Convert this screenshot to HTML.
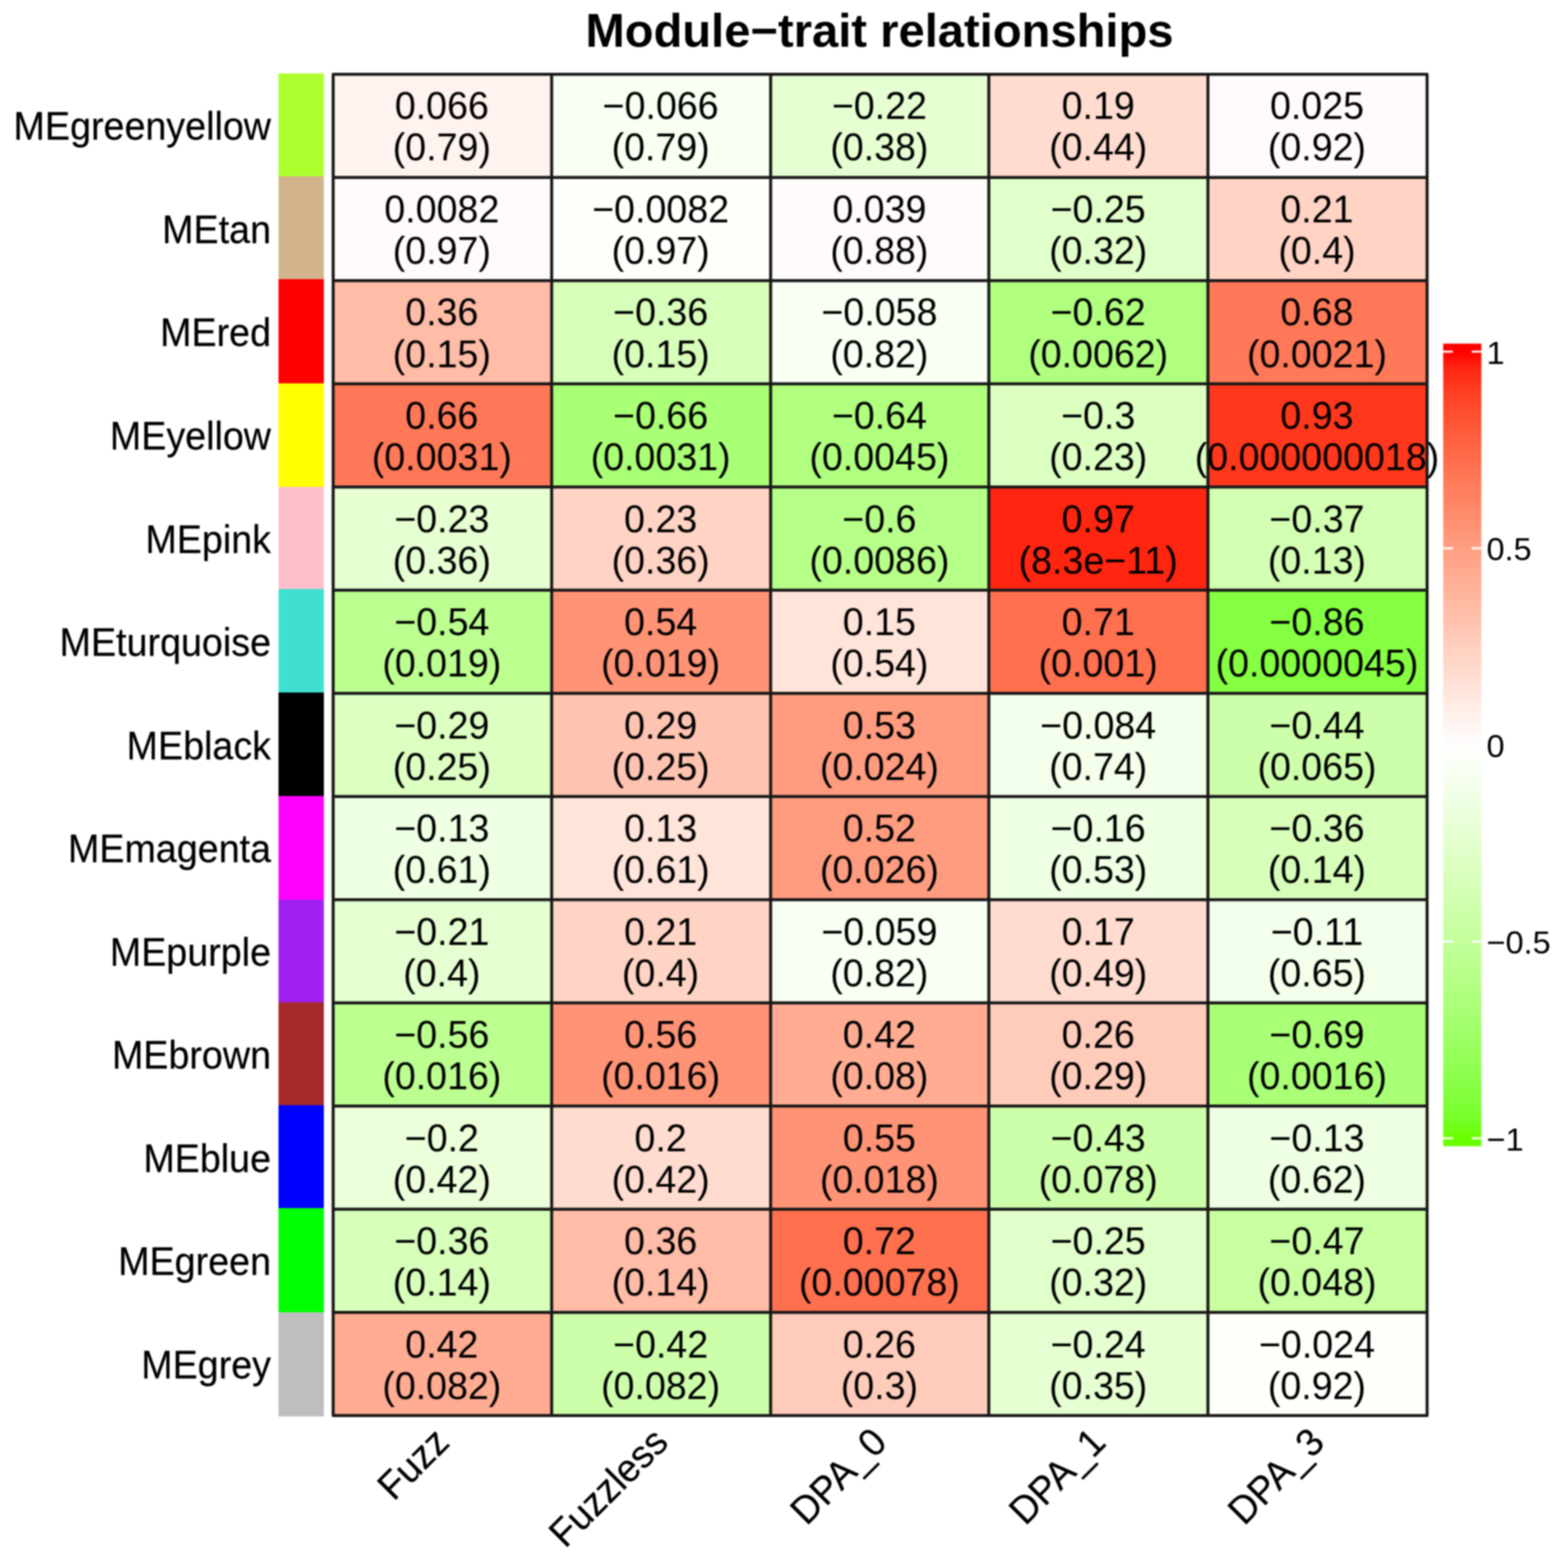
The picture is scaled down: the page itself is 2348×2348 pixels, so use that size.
<!DOCTYPE html>
<html lang="en">
<head>
<meta charset="utf-8">
<title>Module-trait relationships</title>
<style>
html,body{margin:0;padding:0;background:#ffffff;}
body{width:2348px;height:2348px;overflow:hidden;}
svg{display:block;}
text{font-family:"Liberation Sans",sans-serif;fill:#000000;}
.t{font-size:70.6px;font-weight:bold;text-anchor:middle;}
.r,.x{stroke:#000;stroke-width:0.3px;stroke-linejoin:round;}
.r{font-size:56.4px;text-anchor:end;}
.c{font-size:56.3px;text-anchor:middle;}
.x{font-size:56.3px;text-anchor:end;}
.l{font-size:48.6px;text-anchor:start;}
</style>
</head>
<body>
<svg width="2348" height="2348" viewBox="0 0 2348 2348">
<rect x="0" y="0" width="2348" height="2348" fill="#ffffff"/>
<defs><filter id="soft" x="0" y="0" width="2348" height="2348" filterUnits="userSpaceOnUse" color-interpolation-filters="sRGB"><feGaussianBlur stdDeviation="1.0"/></filter></defs>
<g filter="url(#soft)">
<rect x="0" y="0" width="2348" height="2348" fill="#ffffff"/>
<text class="t" transform="translate(1317 69.5) scale(1 1.0)">Module−trait relationships</text>
<g shape-rendering="crispEdges">
<rect x="417" y="109.5" width="68.2" height="155" fill="#adff2f"/>
<rect x="417" y="264" width="68.2" height="154.5" fill="#d2b48c"/>
<rect x="417" y="418" width="68.2" height="156.1" fill="#ff0000"/>
<rect x="417" y="573.6" width="68.2" height="155.9" fill="#ffff00"/>
<rect x="417" y="729" width="68.2" height="153.3" fill="#ffc0cb"/>
<rect x="417" y="881.8" width="68.2" height="155.7" fill="#40e0d0"/>
<rect x="417" y="1037" width="68.2" height="155.9" fill="#000000"/>
<rect x="417" y="1192.4" width="68.2" height="155.1" fill="#ff00ff"/>
<rect x="417" y="1347" width="68.2" height="154.7" fill="#a020f0"/>
<rect x="417" y="1501.2" width="68.2" height="153.9" fill="#a52a2a"/>
<rect x="417" y="1654.6" width="68.2" height="154.9" fill="#0000ff"/>
<rect x="417" y="1809" width="68.2" height="156.8" fill="#00ff00"/>
<rect x="417" y="1965.3" width="68.2" height="155.7" fill="#bebebe"/>
</g>
<g>
<rect x="498.9" y="111.2" width="327.7" height="155" fill="#fff3ef"/>
<rect x="826.1" y="111.2" width="328.4" height="155" fill="#f8fff3"/>
<rect x="1154" y="111.2" width="327.2" height="155" fill="#e6ffd2"/>
<rect x="1480.7" y="111.2" width="328.6" height="155" fill="#ffdccf"/>
<rect x="1808.8" y="111.2" width="328.7" height="155" fill="#fffbfa"/>
<rect x="498.9" y="265.7" width="327.7" height="155" fill="#fffbfa"/>
<rect x="826.1" y="265.7" width="328.4" height="155" fill="#fdfffb"/>
<rect x="1154" y="265.7" width="327.2" height="155" fill="#fffbfa"/>
<rect x="1480.7" y="265.7" width="328.6" height="155" fill="#e1ffca"/>
<rect x="1808.8" y="265.7" width="328.7" height="155" fill="#ffd4c5"/>
<rect x="498.9" y="420.2" width="327.7" height="155" fill="#ffbca7"/>
<rect x="826.1" y="420.2" width="328.4" height="155" fill="#d7ffba"/>
<rect x="1154" y="420.2" width="327.2" height="155" fill="#f8fff3"/>
<rect x="1480.7" y="420.2" width="328.6" height="155" fill="#b0ff7f"/>
<rect x="1808.8" y="420.2" width="328.7" height="155" fill="#ff7958"/>
<rect x="498.9" y="574.7" width="327.7" height="155" fill="#ff7958"/>
<rect x="826.1" y="574.7" width="328.4" height="155" fill="#a9ff76"/>
<rect x="1154" y="574.7" width="327.2" height="155" fill="#b0ff7f"/>
<rect x="1480.7" y="574.7" width="328.6" height="155" fill="#dcffc2"/>
<rect x="1808.8" y="574.7" width="328.7" height="155" fill="#ff371d"/>
<rect x="498.9" y="729.2" width="327.7" height="155" fill="#e6ffd2"/>
<rect x="826.1" y="729.2" width="328.4" height="155" fill="#ffd4c5"/>
<rect x="1154" y="729.2" width="327.2" height="155" fill="#b6ff88"/>
<rect x="1480.7" y="729.2" width="328.6" height="155" fill="#ff2510"/>
<rect x="1808.8" y="729.2" width="328.7" height="155" fill="#d2ffb2"/>
<rect x="498.9" y="883.7" width="327.7" height="155" fill="#bcff90"/>
<rect x="826.1" y="883.7" width="328.4" height="155" fill="#ff9375"/>
<rect x="1154" y="883.7" width="327.2" height="155" fill="#ffe4da"/>
<rect x="1480.7" y="883.7" width="328.6" height="155" fill="#ff704f"/>
<rect x="1808.8" y="883.7" width="328.7" height="155" fill="#85ff42"/>
<rect x="498.9" y="1038.2" width="327.7" height="155" fill="#dcffc2"/>
<rect x="826.1" y="1038.2" width="328.4" height="155" fill="#ffc4b1"/>
<rect x="1154" y="1038.2" width="327.2" height="155" fill="#ff9c7f"/>
<rect x="1480.7" y="1038.2" width="328.6" height="155" fill="#f4ffeb"/>
<rect x="1808.8" y="1038.2" width="328.7" height="155" fill="#cdffaa"/>
<rect x="498.9" y="1192.7" width="327.7" height="155" fill="#efffe3"/>
<rect x="826.1" y="1192.7" width="328.4" height="155" fill="#ffe4da"/>
<rect x="1154" y="1192.7" width="327.2" height="155" fill="#ff9c7f"/>
<rect x="1480.7" y="1192.7" width="328.6" height="155" fill="#efffe3"/>
<rect x="1808.8" y="1192.7" width="328.7" height="155" fill="#d7ffba"/>
<rect x="498.9" y="1347.2" width="327.7" height="155" fill="#e6ffd2"/>
<rect x="826.1" y="1347.2" width="328.4" height="155" fill="#ffd4c5"/>
<rect x="1154" y="1347.2" width="327.2" height="155" fill="#f8fff3"/>
<rect x="1480.7" y="1347.2" width="328.6" height="155" fill="#ffdccf"/>
<rect x="1808.8" y="1347.2" width="328.7" height="155" fill="#f4ffeb"/>
<rect x="498.9" y="1501.7" width="327.7" height="155" fill="#bcff90"/>
<rect x="826.1" y="1501.7" width="328.4" height="155" fill="#ff9375"/>
<rect x="1154" y="1501.7" width="327.2" height="155" fill="#ffac93"/>
<rect x="1480.7" y="1501.7" width="328.6" height="155" fill="#ffccbb"/>
<rect x="1808.8" y="1501.7" width="328.7" height="155" fill="#a9ff76"/>
<rect x="498.9" y="1656.2" width="327.7" height="155" fill="#ebffdb"/>
<rect x="826.1" y="1656.2" width="328.4" height="155" fill="#ffdccf"/>
<rect x="1154" y="1656.2" width="327.2" height="155" fill="#ff9375"/>
<rect x="1480.7" y="1656.2" width="328.6" height="155" fill="#cdffaa"/>
<rect x="1808.8" y="1656.2" width="328.7" height="155" fill="#efffe3"/>
<rect x="498.9" y="1810.7" width="327.7" height="155" fill="#d7ffba"/>
<rect x="826.1" y="1810.7" width="328.4" height="155" fill="#ffbca7"/>
<rect x="1154" y="1810.7" width="327.2" height="155" fill="#ff704f"/>
<rect x="1480.7" y="1810.7" width="328.6" height="155" fill="#e1ffca"/>
<rect x="1808.8" y="1810.7" width="328.7" height="155" fill="#c7ffa1"/>
<rect x="498.9" y="1965.2" width="327.7" height="155" fill="#ffac93"/>
<rect x="826.1" y="1965.2" width="328.4" height="155" fill="#cdffaa"/>
<rect x="1154" y="1965.2" width="327.2" height="155" fill="#ffccbb"/>
<rect x="1480.7" y="1965.2" width="328.6" height="155" fill="#e6ffd2"/>
<rect x="1808.8" y="1965.2" width="328.7" height="155" fill="#fdfffb"/>
</g>
<g stroke="#181818" stroke-width="4.5" stroke-linecap="butt" stroke-linejoin="round" fill="none">
<line x1="498.9" y1="265.7" x2="2137" y2="265.7"/>
<line x1="498.9" y1="420.2" x2="2137" y2="420.2"/>
<line x1="498.9" y1="574.7" x2="2137" y2="574.7"/>
<line x1="498.9" y1="729.2" x2="2137" y2="729.2"/>
<line x1="498.9" y1="883.7" x2="2137" y2="883.7"/>
<line x1="498.9" y1="1038.2" x2="2137" y2="1038.2"/>
<line x1="498.9" y1="1192.7" x2="2137" y2="1192.7"/>
<line x1="498.9" y1="1347.2" x2="2137" y2="1347.2"/>
<line x1="498.9" y1="1501.7" x2="2137" y2="1501.7"/>
<line x1="498.9" y1="1656.2" x2="2137" y2="1656.2"/>
<line x1="498.9" y1="1810.7" x2="2137" y2="1810.7"/>
<line x1="498.9" y1="1965.2" x2="2137" y2="1965.2"/>
<line x1="826.1" y1="111.2" x2="826.1" y2="2119.7"/>
<line x1="1154" y1="111.2" x2="1154" y2="2119.7"/>
<line x1="1480.7" y1="111.2" x2="1480.7" y2="2119.7"/>
<line x1="1808.8" y1="111.2" x2="1808.8" y2="2119.7"/>
<rect x="498.9" y="111.2" width="1638.1" height="2008.5"/>
</g>
<text class="r" transform="translate(405.8 209.3) scale(1 1.035)">MEgreenyellow</text>
<text class="r" transform="translate(405.8 363.85) scale(1 1.035)">MEtan</text>
<text class="r" transform="translate(405.8 518.4) scale(1 1.035)">MEred</text>
<text class="r" transform="translate(405.8 672.95) scale(1 1.035)">MEyellow</text>
<text class="r" transform="translate(405.8 827.5) scale(1 1.035)">MEpink</text>
<text class="r" transform="translate(405.8 982.05) scale(1 1.035)">MEturquoise</text>
<text class="r" transform="translate(405.8 1136.6) scale(1 1.035)">MEblack</text>
<text class="r" transform="translate(405.8 1291.15) scale(1 1.035)">MEmagenta</text>
<text class="r" transform="translate(405.8 1445.7) scale(1 1.035)">MEpurple</text>
<text class="r" transform="translate(405.8 1600.25) scale(1 1.035)">MEbrown</text>
<text class="r" transform="translate(405.8 1754.8) scale(1 1.035)">MEblue</text>
<text class="r" transform="translate(405.8 1909.35) scale(1 1.035)">MEgreen</text>
<text class="r" transform="translate(405.8 2063.9) scale(1 1.035)">MEgrey</text>
<text class="c" transform="translate(661.61 178.3) scale(1 1.03)">0.066</text>
<text class="c" transform="translate(661.61 240.4) scale(1 1.03)">(0.79)</text>
<text class="c" transform="translate(989.23 178.3) scale(1 1.03)">−0.066</text>
<text class="c" transform="translate(989.23 240.4) scale(1 1.03)">(0.79)</text>
<text class="c" transform="translate(1316.85 178.3) scale(1 1.03)">−0.22</text>
<text class="c" transform="translate(1316.85 240.4) scale(1 1.03)">(0.38)</text>
<text class="c" transform="translate(1644.47 178.3) scale(1 1.03)">0.19</text>
<text class="c" transform="translate(1644.47 240.4) scale(1 1.03)">(0.44)</text>
<text class="c" transform="translate(1972.09 178.3) scale(1 1.03)">0.025</text>
<text class="c" transform="translate(1972.09 240.4) scale(1 1.03)">(0.92)</text>
<text class="c" transform="translate(661.61 332.85) scale(1 1.03)">0.0082</text>
<text class="c" transform="translate(661.61 394.95) scale(1 1.03)">(0.97)</text>
<text class="c" transform="translate(989.23 332.85) scale(1 1.03)">−0.0082</text>
<text class="c" transform="translate(989.23 394.95) scale(1 1.03)">(0.97)</text>
<text class="c" transform="translate(1316.85 332.85) scale(1 1.03)">0.039</text>
<text class="c" transform="translate(1316.85 394.95) scale(1 1.03)">(0.88)</text>
<text class="c" transform="translate(1644.47 332.85) scale(1 1.03)">−0.25</text>
<text class="c" transform="translate(1644.47 394.95) scale(1 1.03)">(0.32)</text>
<text class="c" transform="translate(1972.09 332.85) scale(1 1.03)">0.21</text>
<text class="c" transform="translate(1972.09 394.95) scale(1 1.03)">(0.4)</text>
<text class="c" transform="translate(661.61 487.4) scale(1 1.03)">0.36</text>
<text class="c" transform="translate(661.61 549.5) scale(1 1.03)">(0.15)</text>
<text class="c" transform="translate(989.23 487.4) scale(1 1.03)">−0.36</text>
<text class="c" transform="translate(989.23 549.5) scale(1 1.03)">(0.15)</text>
<text class="c" transform="translate(1316.85 487.4) scale(1 1.03)">−0.058</text>
<text class="c" transform="translate(1316.85 549.5) scale(1 1.03)">(0.82)</text>
<text class="c" transform="translate(1644.47 487.4) scale(1 1.03)">−0.62</text>
<text class="c" transform="translate(1644.47 549.5) scale(1 1.03)">(0.0062)</text>
<text class="c" transform="translate(1972.09 487.4) scale(1 1.03)">0.68</text>
<text class="c" transform="translate(1972.09 549.5) scale(1 1.03)">(0.0021)</text>
<text class="c" transform="translate(661.61 641.95) scale(1 1.03)">0.66</text>
<text class="c" transform="translate(661.61 704.05) scale(1 1.03)">(0.0031)</text>
<text class="c" transform="translate(989.23 641.95) scale(1 1.03)">−0.66</text>
<text class="c" transform="translate(989.23 704.05) scale(1 1.03)">(0.0031)</text>
<text class="c" transform="translate(1316.85 641.95) scale(1 1.03)">−0.64</text>
<text class="c" transform="translate(1316.85 704.05) scale(1 1.03)">(0.0045)</text>
<text class="c" transform="translate(1644.47 641.95) scale(1 1.03)">−0.3</text>
<text class="c" transform="translate(1644.47 704.05) scale(1 1.03)">(0.23)</text>
<text class="c" transform="translate(1972.09 641.95) scale(1 1.03)">0.93</text>
<text class="c" transform="translate(1972.09 704.05) scale(1 1.03)">(0.000000018)</text>
<text class="c" transform="translate(661.61 796.5) scale(1 1.03)">−0.23</text>
<text class="c" transform="translate(661.61 858.6) scale(1 1.03)">(0.36)</text>
<text class="c" transform="translate(989.23 796.5) scale(1 1.03)">0.23</text>
<text class="c" transform="translate(989.23 858.6) scale(1 1.03)">(0.36)</text>
<text class="c" transform="translate(1316.85 796.5) scale(1 1.03)">−0.6</text>
<text class="c" transform="translate(1316.85 858.6) scale(1 1.03)">(0.0086)</text>
<text class="c" transform="translate(1644.47 796.5) scale(1 1.03)">0.97</text>
<text class="c" transform="translate(1644.47 858.6) scale(1 1.03)">(8.3e−11)</text>
<text class="c" transform="translate(1972.09 796.5) scale(1 1.03)">−0.37</text>
<text class="c" transform="translate(1972.09 858.6) scale(1 1.03)">(0.13)</text>
<text class="c" transform="translate(661.61 951.05) scale(1 1.03)">−0.54</text>
<text class="c" transform="translate(661.61 1013.15) scale(1 1.03)">(0.019)</text>
<text class="c" transform="translate(989.23 951.05) scale(1 1.03)">0.54</text>
<text class="c" transform="translate(989.23 1013.15) scale(1 1.03)">(0.019)</text>
<text class="c" transform="translate(1316.85 951.05) scale(1 1.03)">0.15</text>
<text class="c" transform="translate(1316.85 1013.15) scale(1 1.03)">(0.54)</text>
<text class="c" transform="translate(1644.47 951.05) scale(1 1.03)">0.71</text>
<text class="c" transform="translate(1644.47 1013.15) scale(1 1.03)">(0.001)</text>
<text class="c" transform="translate(1972.09 951.05) scale(1 1.03)">−0.86</text>
<text class="c" transform="translate(1972.09 1013.15) scale(1 1.03)">(0.0000045)</text>
<text class="c" transform="translate(661.61 1105.6) scale(1 1.03)">−0.29</text>
<text class="c" transform="translate(661.61 1167.7) scale(1 1.03)">(0.25)</text>
<text class="c" transform="translate(989.23 1105.6) scale(1 1.03)">0.29</text>
<text class="c" transform="translate(989.23 1167.7) scale(1 1.03)">(0.25)</text>
<text class="c" transform="translate(1316.85 1105.6) scale(1 1.03)">0.53</text>
<text class="c" transform="translate(1316.85 1167.7) scale(1 1.03)">(0.024)</text>
<text class="c" transform="translate(1644.47 1105.6) scale(1 1.03)">−0.084</text>
<text class="c" transform="translate(1644.47 1167.7) scale(1 1.03)">(0.74)</text>
<text class="c" transform="translate(1972.09 1105.6) scale(1 1.03)">−0.44</text>
<text class="c" transform="translate(1972.09 1167.7) scale(1 1.03)">(0.065)</text>
<text class="c" transform="translate(661.61 1260.15) scale(1 1.03)">−0.13</text>
<text class="c" transform="translate(661.61 1322.25) scale(1 1.03)">(0.61)</text>
<text class="c" transform="translate(989.23 1260.15) scale(1 1.03)">0.13</text>
<text class="c" transform="translate(989.23 1322.25) scale(1 1.03)">(0.61)</text>
<text class="c" transform="translate(1316.85 1260.15) scale(1 1.03)">0.52</text>
<text class="c" transform="translate(1316.85 1322.25) scale(1 1.03)">(0.026)</text>
<text class="c" transform="translate(1644.47 1260.15) scale(1 1.03)">−0.16</text>
<text class="c" transform="translate(1644.47 1322.25) scale(1 1.03)">(0.53)</text>
<text class="c" transform="translate(1972.09 1260.15) scale(1 1.03)">−0.36</text>
<text class="c" transform="translate(1972.09 1322.25) scale(1 1.03)">(0.14)</text>
<text class="c" transform="translate(661.61 1414.7) scale(1 1.03)">−0.21</text>
<text class="c" transform="translate(661.61 1476.8) scale(1 1.03)">(0.4)</text>
<text class="c" transform="translate(989.23 1414.7) scale(1 1.03)">0.21</text>
<text class="c" transform="translate(989.23 1476.8) scale(1 1.03)">(0.4)</text>
<text class="c" transform="translate(1316.85 1414.7) scale(1 1.03)">−0.059</text>
<text class="c" transform="translate(1316.85 1476.8) scale(1 1.03)">(0.82)</text>
<text class="c" transform="translate(1644.47 1414.7) scale(1 1.03)">0.17</text>
<text class="c" transform="translate(1644.47 1476.8) scale(1 1.03)">(0.49)</text>
<text class="c" transform="translate(1972.09 1414.7) scale(1 1.03)">−0.11</text>
<text class="c" transform="translate(1972.09 1476.8) scale(1 1.03)">(0.65)</text>
<text class="c" transform="translate(661.61 1569.25) scale(1 1.03)">−0.56</text>
<text class="c" transform="translate(661.61 1631.35) scale(1 1.03)">(0.016)</text>
<text class="c" transform="translate(989.23 1569.25) scale(1 1.03)">0.56</text>
<text class="c" transform="translate(989.23 1631.35) scale(1 1.03)">(0.016)</text>
<text class="c" transform="translate(1316.85 1569.25) scale(1 1.03)">0.42</text>
<text class="c" transform="translate(1316.85 1631.35) scale(1 1.03)">(0.08)</text>
<text class="c" transform="translate(1644.47 1569.25) scale(1 1.03)">0.26</text>
<text class="c" transform="translate(1644.47 1631.35) scale(1 1.03)">(0.29)</text>
<text class="c" transform="translate(1972.09 1569.25) scale(1 1.03)">−0.69</text>
<text class="c" transform="translate(1972.09 1631.35) scale(1 1.03)">(0.0016)</text>
<text class="c" transform="translate(661.61 1723.8) scale(1 1.03)">−0.2</text>
<text class="c" transform="translate(661.61 1785.9) scale(1 1.03)">(0.42)</text>
<text class="c" transform="translate(989.23 1723.8) scale(1 1.03)">0.2</text>
<text class="c" transform="translate(989.23 1785.9) scale(1 1.03)">(0.42)</text>
<text class="c" transform="translate(1316.85 1723.8) scale(1 1.03)">0.55</text>
<text class="c" transform="translate(1316.85 1785.9) scale(1 1.03)">(0.018)</text>
<text class="c" transform="translate(1644.47 1723.8) scale(1 1.03)">−0.43</text>
<text class="c" transform="translate(1644.47 1785.9) scale(1 1.03)">(0.078)</text>
<text class="c" transform="translate(1972.09 1723.8) scale(1 1.03)">−0.13</text>
<text class="c" transform="translate(1972.09 1785.9) scale(1 1.03)">(0.62)</text>
<text class="c" transform="translate(661.61 1878.35) scale(1 1.03)">−0.36</text>
<text class="c" transform="translate(661.61 1940.45) scale(1 1.03)">(0.14)</text>
<text class="c" transform="translate(989.23 1878.35) scale(1 1.03)">0.36</text>
<text class="c" transform="translate(989.23 1940.45) scale(1 1.03)">(0.14)</text>
<text class="c" transform="translate(1316.85 1878.35) scale(1 1.03)">0.72</text>
<text class="c" transform="translate(1316.85 1940.45) scale(1 1.03)">(0.00078)</text>
<text class="c" transform="translate(1644.47 1878.35) scale(1 1.03)">−0.25</text>
<text class="c" transform="translate(1644.47 1940.45) scale(1 1.03)">(0.32)</text>
<text class="c" transform="translate(1972.09 1878.35) scale(1 1.03)">−0.47</text>
<text class="c" transform="translate(1972.09 1940.45) scale(1 1.03)">(0.048)</text>
<text class="c" transform="translate(661.61 2032.9) scale(1 1.03)">0.42</text>
<text class="c" transform="translate(661.61 2095) scale(1 1.03)">(0.082)</text>
<text class="c" transform="translate(989.23 2032.9) scale(1 1.03)">−0.42</text>
<text class="c" transform="translate(989.23 2095) scale(1 1.03)">(0.082)</text>
<text class="c" transform="translate(1316.85 2032.9) scale(1 1.03)">0.26</text>
<text class="c" transform="translate(1316.85 2095) scale(1 1.03)">(0.3)</text>
<text class="c" transform="translate(1644.47 2032.9) scale(1 1.03)">−0.24</text>
<text class="c" transform="translate(1644.47 2095) scale(1 1.03)">(0.35)</text>
<text class="c" transform="translate(1972.09 2032.9) scale(1 1.03)">−0.024</text>
<text class="c" transform="translate(1972.09 2095) scale(1 1.03)">(0.92)</text>
<text class="x" transform="translate(661.41 2148.5) rotate(-45) translate(0 20.16) scale(1 1.035)">Fuzz</text>
<text class="x" transform="translate(989.03 2148.5) rotate(-45) translate(0 20.16) scale(1 1.035)">Fuzzless</text>
<text class="x" transform="translate(1316.65 2148.5) rotate(-45) translate(0 20.16) scale(1 1.035)">DPA_0</text>
<text class="x" transform="translate(1644.27 2148.5) rotate(-45) translate(0 20.16) scale(1 1.035)">DPA_1</text>
<text class="x" transform="translate(1971.89 2148.5) rotate(-45) translate(0 20.16) scale(1 1.035)">DPA_3</text>
<defs><linearGradient id="lg" gradientUnits="userSpaceOnUse" x1="0" y1="526.6" x2="0" y2="1704.4">
<stop offset="0.00000" stop-color="#ff0000"/>
<stop offset="0.02041" stop-color="#ff2510"/>
<stop offset="0.04082" stop-color="#ff371d"/>
<stop offset="0.06122" stop-color="#ff4527"/>
<stop offset="0.08163" stop-color="#ff5132"/>
<stop offset="0.10204" stop-color="#ff5c3b"/>
<stop offset="0.12245" stop-color="#ff6645"/>
<stop offset="0.14286" stop-color="#ff704f"/>
<stop offset="0.16327" stop-color="#ff7958"/>
<stop offset="0.18367" stop-color="#ff8262"/>
<stop offset="0.20408" stop-color="#ff8b6b"/>
<stop offset="0.22449" stop-color="#ff9375"/>
<stop offset="0.24490" stop-color="#ff9c7f"/>
<stop offset="0.26531" stop-color="#ffa489"/>
<stop offset="0.28571" stop-color="#ffac93"/>
<stop offset="0.30612" stop-color="#ffb49c"/>
<stop offset="0.32653" stop-color="#ffbca7"/>
<stop offset="0.34694" stop-color="#ffc4b1"/>
<stop offset="0.36735" stop-color="#ffccbb"/>
<stop offset="0.38776" stop-color="#ffd4c5"/>
<stop offset="0.40816" stop-color="#ffdccf"/>
<stop offset="0.42857" stop-color="#ffe4da"/>
<stop offset="0.44898" stop-color="#ffece4"/>
<stop offset="0.46939" stop-color="#fff3ef"/>
<stop offset="0.48980" stop-color="#fffbfa"/>
<stop offset="0.51020" stop-color="#fdfffb"/>
<stop offset="0.53061" stop-color="#f8fff3"/>
<stop offset="0.55102" stop-color="#f4ffeb"/>
<stop offset="0.57143" stop-color="#efffe3"/>
<stop offset="0.59184" stop-color="#ebffdb"/>
<stop offset="0.61224" stop-color="#e6ffd2"/>
<stop offset="0.63265" stop-color="#e1ffca"/>
<stop offset="0.65306" stop-color="#dcffc2"/>
<stop offset="0.67347" stop-color="#d7ffba"/>
<stop offset="0.69388" stop-color="#d2ffb2"/>
<stop offset="0.71429" stop-color="#cdffaa"/>
<stop offset="0.73469" stop-color="#c7ffa1"/>
<stop offset="0.75510" stop-color="#c2ff99"/>
<stop offset="0.77551" stop-color="#bcff90"/>
<stop offset="0.79592" stop-color="#b6ff88"/>
<stop offset="0.81633" stop-color="#b0ff7f"/>
<stop offset="0.83673" stop-color="#a9ff76"/>
<stop offset="0.85714" stop-color="#a3ff6d"/>
<stop offset="0.87755" stop-color="#9cff63"/>
<stop offset="0.89796" stop-color="#95ff59"/>
<stop offset="0.91837" stop-color="#8dff4e"/>
<stop offset="0.93878" stop-color="#85ff42"/>
<stop offset="0.95918" stop-color="#7dff35"/>
<stop offset="0.97959" stop-color="#74ff23"/>
<stop offset="1.00000" stop-color="#6aff00"/>
</linearGradient></defs>
<rect x="2161.1" y="514.58" width="57.2" height="1201.84" fill="url(#lg)"/>
<g stroke="#ffffff" stroke-opacity="0.95" stroke-width="3.2">
<line x1="2161.1" y1="526.6" x2="2175.6" y2="526.6"/>
<line x1="2203.8" y1="526.6" x2="2218.3" y2="526.6"/>
<line x1="2161.1" y1="821.05" x2="2175.6" y2="821.05"/>
<line x1="2203.8" y1="821.05" x2="2218.3" y2="821.05"/>
<line x1="2161.1" y1="1115.5" x2="2175.6" y2="1115.5"/>
<line x1="2203.8" y1="1115.5" x2="2218.3" y2="1115.5"/>
<line x1="2161.1" y1="1409.95" x2="2175.6" y2="1409.95"/>
<line x1="2203.8" y1="1409.95" x2="2218.3" y2="1409.95"/>
<line x1="2161.1" y1="1704.4" x2="2175.6" y2="1704.4"/>
<line x1="2203.8" y1="1704.4" x2="2218.3" y2="1704.4"/>
</g>
<text class="l" transform="translate(2226 544.7) scale(1 1.0)">1</text>
<text class="l" transform="translate(2226 839.15) scale(1 1.0)">0.5</text>
<text class="l" transform="translate(2226 1133.6) scale(1 1.0)">0</text>
<text class="l" transform="translate(2226 1428.05) scale(1 1.0)">−0.5</text>
<text class="l" transform="translate(2226 1722.5) scale(1 1.0)">−1</text>
</g>
</svg>
</body>
</html>
